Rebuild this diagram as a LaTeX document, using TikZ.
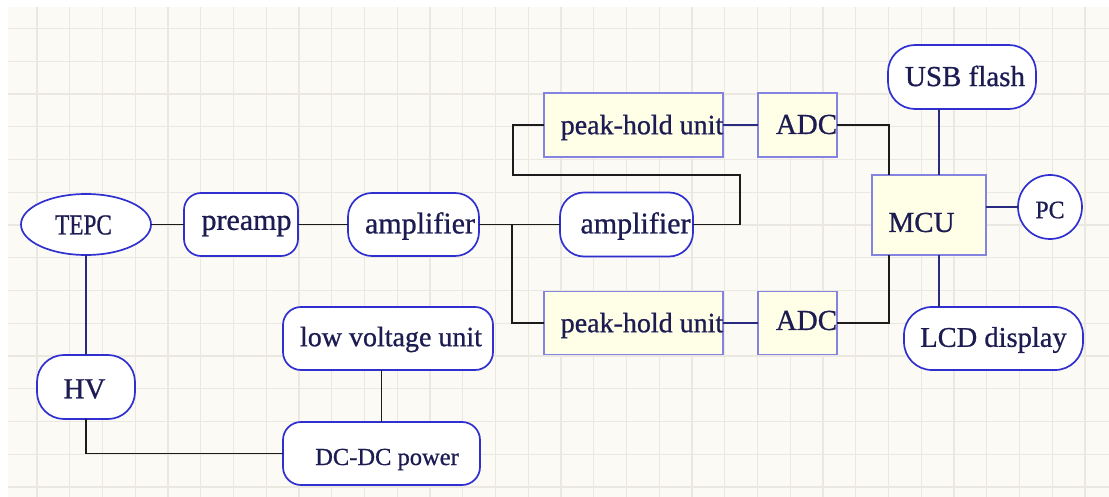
\documentclass[tikz,border=0pt]{standalone}
\usepackage{fontspec}
\setmainfont{Liberation Serif}[FakeBold=0.8]
\usetikzlibrary{shapes.geometric}
\definecolor{bgc}{HTML}{FCFAF4}
\definecolor{gridc}{HTML}{EBE8E2}
\definecolor{edgeb}{HTML}{3030D0}
\definecolor{edger}{HTML}{8484E0}
\definecolor{rfill}{HTML}{FFFFE8}
\definecolor{txtc}{HTML}{1C1C52}
\definecolor{wirek}{HTML}{1C1C1C}
\definecolor{wiren}{HTML}{2A2A80}
\begin{document}
\begin{tikzpicture}[x=1pt,y=-1pt,
  base/.style={inner sep=0pt, outer sep=0pt},
  rnd/.style={base, draw=edgeb, fill=white, line width=1.7pt, rectangle},
  sq/.style={base, draw=edger, fill=rfill, line width=1.5pt, rectangle},
  sz/.style 2 args={minimum width=#1pt, minimum height=#2pt},
  lbl/.style={inner sep=0pt, text=txtc, font=\fontsize{#1}{#1}\selectfont},
  wire/.style={draw=wirek, line width=1.9pt},
  nwire/.style={draw=wiren, line width=1.9pt},
  gl/.style={draw=gridc, line width=1.4pt},
]
\useasboundingbox (0,0) rectangle (1109,497);
\fill[white] (0,0) rectangle (1109,497);
\fill[bgc] (8,7) rectangle (1109,497);
\foreach \i in {0,...,32} \draw[gl] ({37+32.75*\i},7) -- ({37+32.75*\i},497);
\foreach \j in {0,...,14} \draw[gl] (8,{28.5+32.75*\j}) -- (1109,{28.5+32.75*\j});

% shapes
\node[rnd, ellipse, sz={130}{61}] (tepc) at (86,224.5) {};
\node[rnd, rounded corners=17pt, sz={114}{63}] (pre) at (241,224.5) {};
\node[rnd, rounded corners=24pt, sz={131}{63}] (amp1) at (413.5,224.5) {};
\node[rnd, rounded corners=24pt, sz={133}{64}] (amp2) at (626.5,224.5) {};
\node[rnd, rounded corners=27pt, sz={98}{64}] (hv) at (86,387) {};
\node[rnd, rounded corners=18pt, sz={210}{63}] (lv) at (388,338.5) {};
\node[rnd, rounded corners=18pt, sz={197}{63}] (dc) at (381.5,453.5) {};
\node[sq, sz={179}{64}] (ph1) at (633.5,125) {};
\node[sq, sz={79}{64}] (adc1) at (797.5,125) {};
\node[sq, sz={179}{63}] (ph2) at (633.5,323) {};
\node[sq, sz={79}{63}] (adc2) at (797.5,323) {};
\node[sq, sz={114}{80}] (mcu) at (929,215) {};
\node[rnd, rounded corners=27pt, sz={148}{64}] (usb) at (962,77) {};
\node[rnd, circle, minimum size=64pt] (pc) at (1050,207) {};
\node[rnd, rounded corners=28pt, sz={179}{63}] (lcd) at (993.5,338.5) {};

% texts
\node[lbl=29] (tepcT) at (83.5,225) {\scalebox{0.8}[1]{TEPC}};
\node[lbl=30] (preT) at (246.5,226) {preamp};
\node[lbl=30] (amp1T) at (420,226) {amplifier};
\node[lbl=30] (amp2T) at (635.5,226) {amplifier};
\node[lbl=29] (hvT) at (84.5,389) {HV};
\node[lbl=28] (lvT) at (391,339.5) {low voltage unit};
\node[lbl=24.5] (dcT) at (387,459.5) {DC-DC power};
\node[lbl=28] (ph1T) at (642,127.5) {peak-hold unit};
\node[lbl=28] (ph2T) at (642,325.5) {peak-hold unit};
\node[lbl=29] (adc1T) at (806.5,124.5) {ADC};
\node[lbl=29] (adc2T) at (806.5,320.5) {ADC};
\node[lbl=29] (mcuT) at (921.5,222.5) {MCU};
\node[lbl=29] (usbT) at (965,76) {USB flash};
\node[lbl=25] (pcT) at (1050,210) {\scalebox{0.95}[1]{PC}};
\node[lbl=28.5] (lcdT) at (993.5,340) {LCD display};

% connectors
\coordinate (jn) at (512,224.5);
\draw[wire] (tepc) -- (pre);
\draw[wire] (pre) -- (amp1);
\draw[wire] (amp1) -- (amp2);
\draw[wire] (jn) |- (ph2.west);
\draw[wire] (amp2.east) -- ++(47,0) |- (513,175) |- (ph1.west);
\draw[nwire] (ph1) -- (adc1);
\draw[nwire] (ph2) -- (adc2);
\draw[wire] (adc1.east) -| ([xshift=-40pt]mcu.north);
\draw[wire] (adc2.east) -| ([xshift=-40pt]mcu.south);
\draw[nwire] ([xshift=10pt]mcu.north) -- ([xshift=10pt]mcu.north |- usb.south);
\draw[nwire] ([xshift=10pt]mcu.south) -- ([xshift=10pt]mcu.south |- lcd.north);
\draw[nwire] (mcu.east |- pc.west) -- (pc.west);
\draw[nwire] (tepc) -- (hv);
\draw[wire] (hv.south) |- (dc.west);
\draw[wire] (dc.north) -- (dc.north |- lv.south);
\end{tikzpicture}
\end{document}
